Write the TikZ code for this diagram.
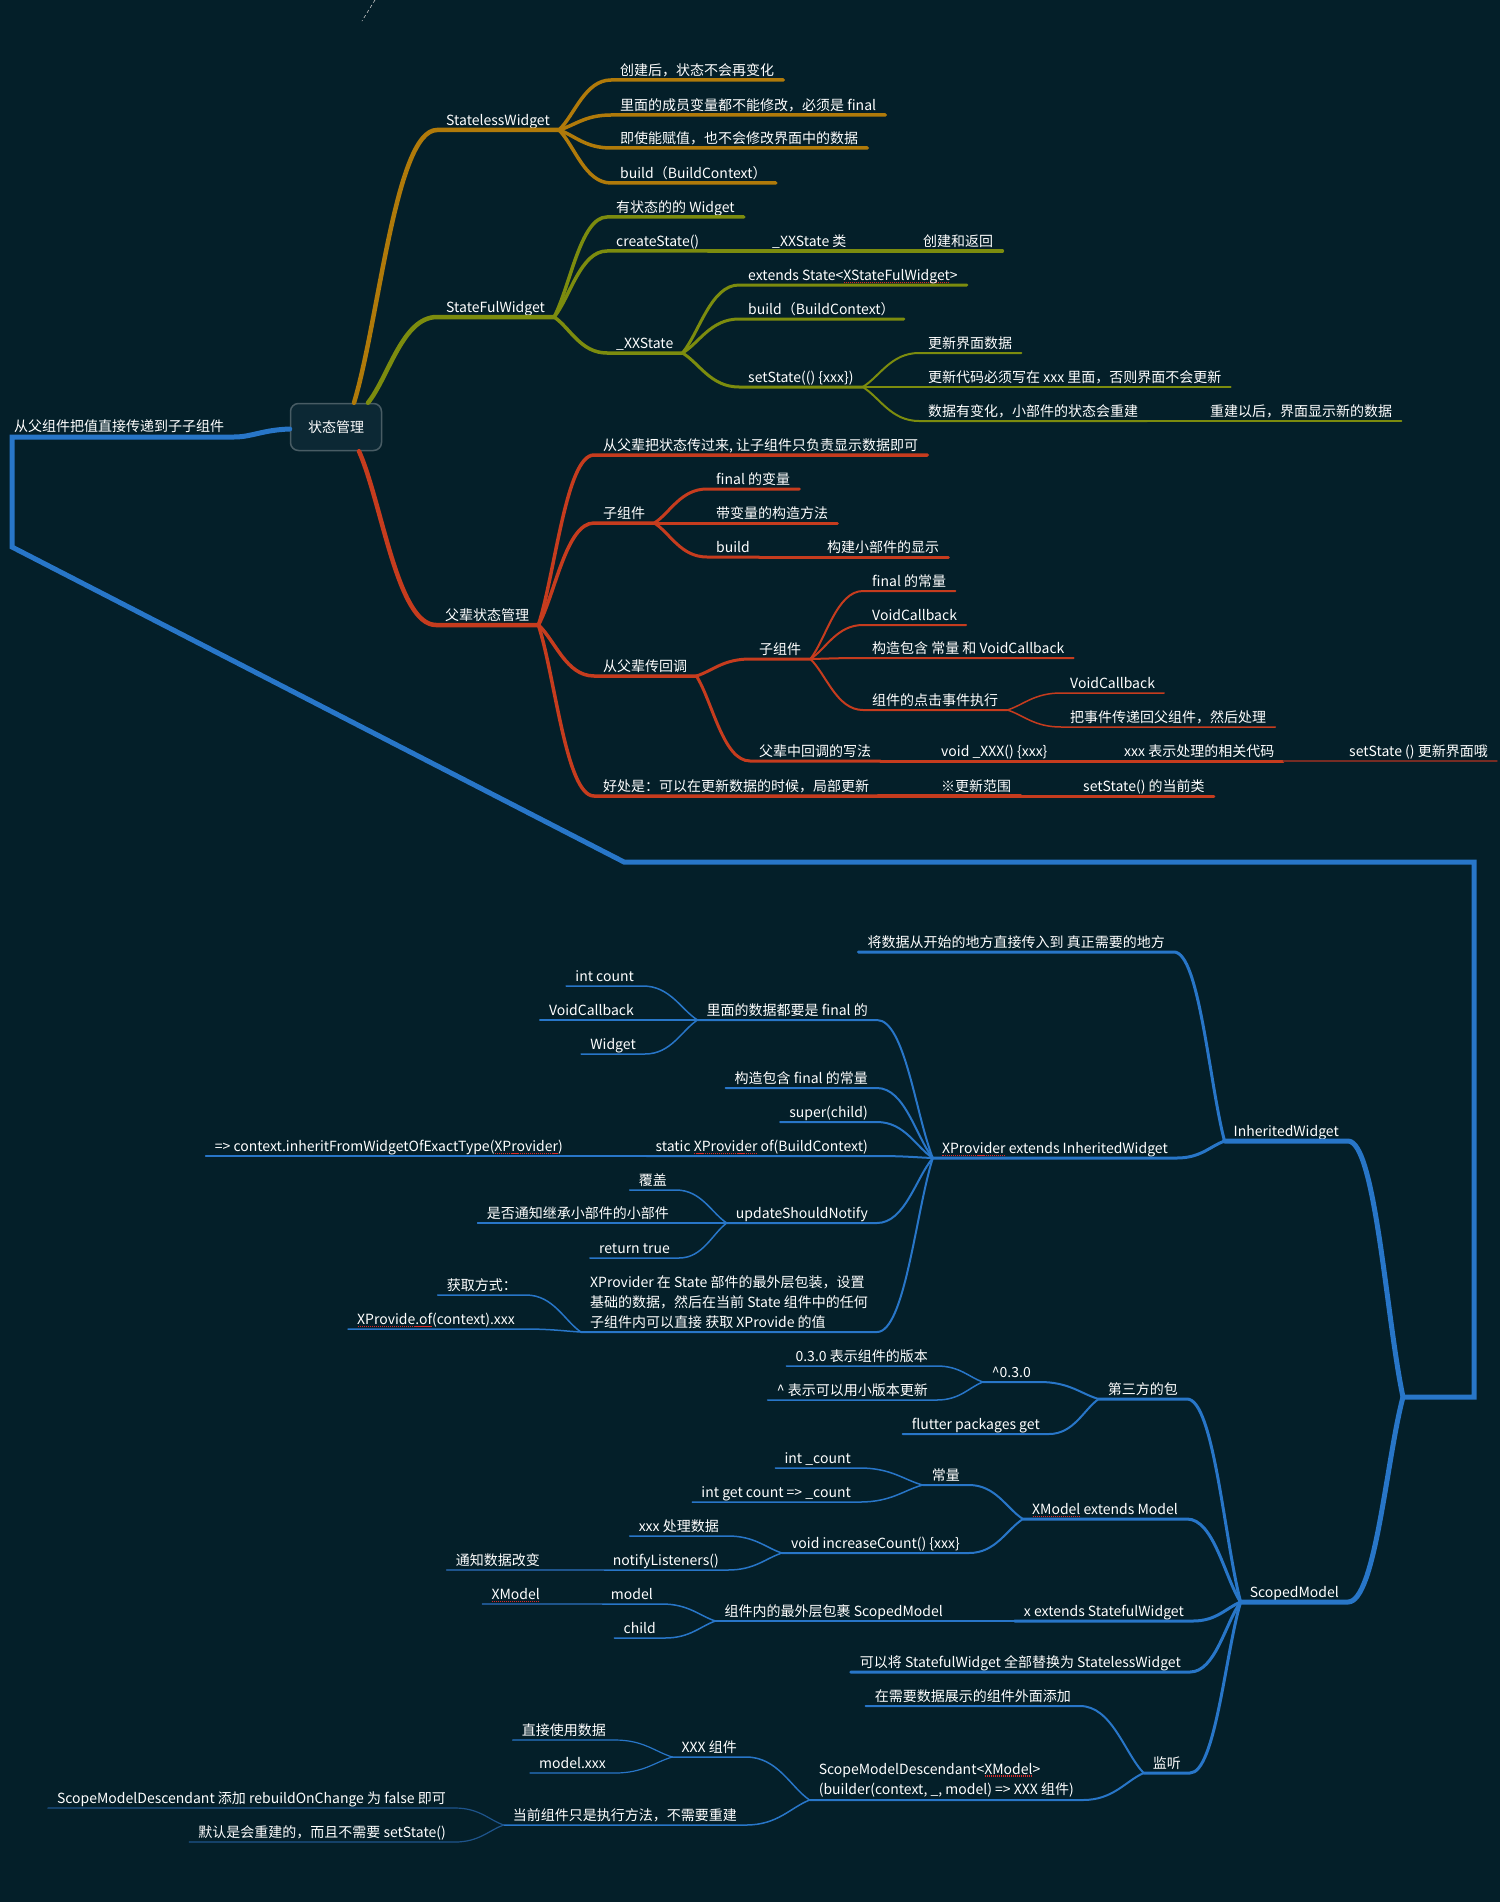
\documentclass[tikz,border=0pt]{standalone}
\usepackage{fontspec}
\setmainfont{Noto Sans CJK SC}
\usetikzlibrary{calc}

\definecolor{bgc}{RGB}{4,31,41}
\definecolor{goldc}{RGB}{176,122,10}
\definecolor{olivec}{RGB}{124,140,14}
\definecolor{redc}{RGB}{198,60,30}
\definecolor{reddark}{RGB}{118,44,36}
\definecolor{bluec}{RGB}{40,118,200}
\definecolor{bluedark}{RGB}{30,84,140}
\definecolor{rootfill}{RGB}{12,40,52}
\definecolor{rootedge}{RGB}{72,92,100}
\definecolor{spellc}{RGB}{220,40,40}

% red dots under a word, as a spell checker marks it
\newcommand\spell[1]{\setbox0\hbox{#1}\rlap{\color{spellc}\raisebox{-2.5pt}[0pt][0pt]{\hbox to \wd0{\xleaders\hbox to 2pt{\hss\rule{1.2pt}{1.2pt}\hss}\hfill}}}\box0\relax}

\begin{document}
\begin{tikzpicture}[x=1pt, y=-1pt, line cap=round, line join=round,
    topic/.style={inner xsep=9pt, inner ysep=1.5pt, text height=10.5pt, text depth=2.5pt, text=white, font=\fontsize{14}{16}\selectfont},
    rtopic/.style={topic, anchor=south west},
    ltopic/.style={topic, anchor=south east},
    note/.style={inner xsep=9pt, inner ysep=3pt, align=left, text=white, font=\fontsize{14}{20}\selectfont, anchor=south east},
    rootbox/.style={draw=rootedge, fill=rootfill, line width=1.5pt, rounded corners=8pt, minimum width=91pt, minimum height=47pt, text=white, font=\fontsize{14}{16}\selectfont},
    twig/.style={to path={.. controls ($(\tikztostart)!0.3!(\tikztotarget)$) and ($(\tikztotarget)!0.5!(\tikztotarget-|\tikztostart)$) .. (\tikztotarget)}},
    lv1/.style={line width=4.5pt}, lv2/.style={line width=3.5pt}, lv3/.style={line width=3pt},
    lv4/.style={line width=2pt}, lv5/.style={line width=1.5pt}, lv6/.style={line width=1.2pt}]
    \useasboundingbox (0,0) rectangle (1500,1902);
    \fill[bgc] (0,0) rectangle (1500,1902);
    \draw[gray!45, dashed, line width=0.6pt] (375,0) -- (362,21);

    % Root
    \node[rootbox] (root) at (336,427) {状态管理};
    \coordinate (goldout) at ([xshift=18pt]root.north);
    \coordinate (oliveout) at ([xshift=32pt]root.north);
    \coordinate (redout) at ([xshift=23pt]root.south);
    \coordinate (blueout) at ([yshift=-2pt]root.west);

    % StatelessWidget
    \node[rtopic] (sl) at (437,130) {StatelessWidget};
    \node[rtopic] (sl1) at (611,80) {创建后，状态不会再变化};
    \node[rtopic] (sl2) at (611,115) {里面的成员变量都不能修改，必须是 final};
    \node[rtopic] (sl3) at (611,148) {即使能赋值，也不会修改界面中的数据};
    \node[rtopic] (sl4) at (611,183) {build（BuildContext）};
    \draw[goldc, lv1] (goldout) to[twig] (sl.south west) -- (sl.south east);
    \foreach \n in {sl1,sl2,sl3,sl4}
        \draw[goldc, lv2] (sl.south east) to[twig] (\n.south west) -- (\n.south east);

    % StateFulWidget
    \node[rtopic] (sf) at (437,317) {StateFulWidget};
    \node[rtopic] (sf1) at (607,217) {有状态的的 Widget};
    \node[rtopic] (sf2) at (607,251) {createState()};
    \node[rtopic] (sf2a) at (763,251) {\_XXState 类};
    \node[rtopic] (sf2b) at (914,251) {创建和返回};
    \node[rtopic] (sf3) at (607,353) {\_XXState};
    \node[rtopic] (xst1) at (739,285) {extends State<\spell{XStateFulWidget}>};
    \node[rtopic] (xst2) at (739,319) {build（BuildContext）};
    \node[rtopic] (xst3) at (739,387) {setState(() \{xxx\})};
    \node[rtopic] (ss1) at (919,353) {更新界面数据};
    \node[rtopic] (ss2) at (919,387) {更新代码必须写在 xxx 里面，否则界面不会更新};
    \node[rtopic] (ss3) at (919,421) {数据有变化，小部件的状态会重建};
    \node[rtopic] (ss3a) at (1201,421) {重建以后，界面显示新的数据};
    \draw[olivec, lv1] (oliveout) to[twig] (sf.south west) -- (sf.south east);
    \foreach \n in {sf1,sf2,sf3}
        \draw[olivec, lv2] (sf.south east) to[twig] (\n.south west) -- (\n.south east);
    \draw[olivec, lv2] (sf2.south east) -- (sf2a.south west) -- (sf2a.south east) -- (sf2b.south west) -- (sf2b.south east);
    \foreach \n in {xst1,xst2,xst3}
        \draw[olivec, lv3] (sf3.south east) to[twig] (\n.south west) -- (\n.south east);
    \foreach \n in {ss1,ss2,ss3}
        \draw[olivec, lv4] (xst3.south east) to[twig] (\n.south west) -- (\n.south east);
    \draw[olivec, lv4] (ss3.south east) -- (ss3a.south west) -- (ss3a.south east);

    % 父辈状态管理
    \node[rtopic] (pm) at (436,625) {父辈状态管理};
    \node[rtopic] (pm1) at (594,455) {从父辈把状态传过来, 让子组件只负责显示数据即可};
    \node[rtopic] (pm2) at (594,523) {子组件};
    \node[rtopic] (pm2a) at (707,489) {final 的变量};
    \node[rtopic] (pm2b) at (707,523) {带变量的构造方法};
    \node[rtopic] (pm2c) at (707,557) {build};
    \node[rtopic] (pm2d) at (818,557) {构建小部件的显示};
    \node[rtopic] (pm3) at (594,676) {从父辈传回调};
    \node[rtopic] (cb1) at (750,659) {子组件};
    \node[rtopic] (cb1a) at (863,591) {final 的常量};
    \node[rtopic] (cb1b) at (863,625) {VoidCallback};
    \node[rtopic] (cb1c) at (863,658) {构造包含 常量 和 VoidCallback};
    \node[rtopic] (cb1d) at (863,710) {组件的点击事件执行};
    \node[rtopic] (ck1) at (1061,693) {VoidCallback};
    \node[rtopic] (ck2) at (1061,727) {把事件传递回父组件，然后处理};
    \node[rtopic] (cb2) at (750,761) {父辈中回调的写法};
    \node[rtopic] (cb2a) at (932,761) {void \_XXX() \{xxx\}};
    \node[rtopic] (cb2b) at (1115,761) {xxx 表示处理的相关代码};
    \node[rtopic] (cb2c) at (1340,761) {setState () 更新界面哦};
    \node[rtopic] (pm4) at (594,796) {好处是：可以在更新数据的时候，局部更新};
    \node[rtopic] (pm4a) at (932,796) {※更新范围};
    \node[rtopic] (pm4b) at (1074,796) {setState() 的当前类};
    \draw[redc, lv1] (redout) to[twig] (pm.south west) -- (pm.south east);
    \foreach \n in {pm1,pm2,pm3,pm4}
        \draw[redc, lv2] (pm.south east) to[twig] (\n.south west) -- (\n.south east);
    \foreach \n in {pm2a,pm2b,pm2c}
        \draw[redc, lv3] (pm2.south east) to[twig] (\n.south west) -- (\n.south east);
    \draw[redc, lv3] (pm2c.south east) -- (pm2d.south west) -- (pm2d.south east);
    \foreach \n in {cb1,cb2}
        \draw[redc, lv3] (pm3.south east) to[twig] (\n.south west) -- (\n.south east);
    \foreach \n in {cb1a,cb1b,cb1c,cb1d}
        \draw[redc, lv4] (cb1.south east) to[twig] (\n.south west) -- (\n.south east);
    \foreach \n in {ck1,ck2}
        \draw[redc, lv5] (cb1d.south east) to[twig] (\n.south west) -- (\n.south east);
    \draw[redc, lv3] (cb2.south east) -- (cb2a.south west) -- (cb2a.south east) -- (cb2b.south west) -- (cb2b.south east);
    \draw[reddark, lv5] (cb2b.south east) -- (cb2c.south west) -- (cb2c.south east);
    \draw[redc, lv2] (pm4.south east) -- (pm4a.south west) -- (pm4a.south east);
    \draw[redc, lv3] (pm4a.south east) -- (pm4b.south west) -- (pm4b.south east);

    % Blue branch round the left side to the hub
    \node[rtopic] (pass) at (5,436) {从父组件把值直接传递到子子组件};
    \coordinate (bend1) at (234,437);
    \coordinate (bend2) at (12,437);
    \coordinate (bend3) at (12,547);
    \coordinate (bend4) at (624,862);
    \coordinate (bend5) at (1474,862);
    \coordinate (bend6) at (1474,1397);
    \coordinate (hub) at (1403,1397);
    \draw[bluec, line width=5pt, line join=miter] (blueout) .. controls (262,430) and (252,437) .. (bend1)
        -- (bend2) -- (bend3) -- (bend4) -- (bend5) -- (bend6) -- (hub);
    \node[ltopic] (iw) at (1348,1141) {InheritedWidget};
    \node[ltopic] (sm) at (1348,1602) {ScopedModel};
    \draw[bluec, line width=5pt] (hub) to[twig] (iw.south east) -- (iw.south west);
    \draw[bluec, line width=5pt] (hub) to[twig] (sm.south east) -- (sm.south west);

    % InheritedWidget
    \node[ltopic] (iw1) at (1174,952) {将数据从开始的地方直接传入到 真正需要的地方};
    \node[ltopic] (xp) at (1177,1158) {\spell{XProvider} extends InheritedWidget};
    \node[ltopic] (xp1) at (877,1020) {里面的数据都要是 final 的};
    \node[ltopic] (xp1a) at (643,986) {int count};
    \node[ltopic] (xp1b) at (643,1020) {VoidCallback};
    \node[ltopic] (xp1c) at (645,1054) {Widget};
    \node[ltopic] (xp2) at (877,1088) {构造包含 final 的常量};
    \node[ltopic] (xp3) at (877,1122) {super(child)};
    \node[ltopic] (xp4) at (877,1156) {static \spell{XProvider} of(BuildContext)};
    \node[ltopic] (xp4a) at (572,1156) {=> context.inheritFromWidgetOfExactType(\spell{XProvider})};
    \node[ltopic] (xp5) at (877,1223) {updateShouldNotify};
    \node[ltopic] (xp5a) at (676,1190) {覆盖};
    \node[ltopic] (xp5b) at (678,1223) {是否通知继承小部件的小部件};
    \node[ltopic] (xp5c) at (679,1258) {return true};
    \node[note] (xp6) at (877,1332) {XProvider 在 State 部件的最外层包装，设置\\基础的数据，然后在当前 State 组件中的任何\\子组件内可以直接 获取 XProvide 的值};
    \node[ltopic] (xp6a) at (526,1295) {获取方式：};
    \node[ltopic] (xp6b) at (524,1329) {\spell{XProvide.of}(context).xxx};
    \foreach \n in {iw1,xp}
        \draw[bluec, lv3] (iw.south west) to[twig] (\n.south east) -- (\n.south west);
    \foreach \n in {xp1,xp2,xp3,xp4,xp5,xp6}
        \draw[bluec, lv4] (xp.south west) to[twig] (\n.south east) -- (\n.south west);
    \foreach \n in {xp1a,xp1b,xp1c}
        \draw[bluec, lv5] (xp1.south west) to[twig] (\n.south east) -- (\n.south west);
    \draw[bluec, lv5] (xp4.south west) -- (xp4a.south east) -- (xp4a.south west);
    \foreach \n in {xp5a,xp5b,xp5c}
        \draw[bluec, lv5] (xp5.south west) to[twig] (\n.south east) -- (\n.south west);
    \foreach \n in {xp6a,xp6b}
        \draw[bluec, lv5] (xp6.south west) to[twig] (\n.south east) -- (\n.south west);

    % ScopedModel
    \node[ltopic] (tp) at (1187,1399) {第三方的包};
    \node[ltopic] (tp1) at (1040,1382) {\textasciicircum0.3.0};
    \node[ltopic] (tp1a) at (937,1366) {0.3.0 表示组件的版本};
    \node[ltopic] (tp1b) at (937,1400) {\textasciicircum{} 表示可以用小版本更新};
    \node[ltopic] (tp2) at (1049,1434) {flutter packages get};
    \node[ltopic] (xm) at (1187,1519) {\spell{XModel} extends Model};
    \node[ltopic] (xm1) at (969,1485) {常量};
    \node[ltopic] (xm1a) at (860,1468) {int \_count};
    \node[ltopic] (xm1b) at (860,1502) {int get count => \_count};
    \node[ltopic] (xm2) at (969,1553) {void increaseCount() \{xxx\}};
    \node[ltopic] (xm2a) at (728,1536) {xxx 处理数据};
    \node[ltopic] (xm2b) at (728,1570) {notifyListeners()};
    \node[ltopic] (xm2c) at (549,1570) {通知数据改变};
    \node[ltopic] (sw) at (1193,1621) {x extends StatefulWidget};
    \node[ltopic] (swa) at (952,1621) {组件内的最外层包裹 ScopedModel};
    \node[ltopic] (swm) at (662,1604) {model};
    \node[ltopic] (swx) at (549,1604) {\spell{XModel}};
    \node[ltopic] (swc) at (665,1638) {child};
    \node[ltopic] (rp) at (1190,1672) {可以将 StatefulWidget 全部替换为 StatelessWidget};
    \node[ltopic] (ls) at (1190,1773) {监听};
    \node[ltopic] (ls1) at (1080,1706) {在需要数据展示的组件外面添加};
    \node[note] (ls2) at (1083,1800) {ScopeModelDescendant<\spell{XModel}>\\(builder(context, \_, model) => XXX 组件)};
    \node[ltopic] (xc) at (746,1757) {XXX 组件};
    \node[ltopic] (xc1) at (615,1740) {直接使用数据};
    \node[ltopic] (xc2) at (615,1773) {model.xxx};
    \node[ltopic] (nr) at (746,1825) {当前组件只是执行方法，不需要重建};
    \node[ltopic] (nr1) at (455,1808) {ScopeModelDescendant 添加 rebuildOnChange 为 false 即可};
    \node[ltopic] (nr2) at (455,1842) {默认是会重建的，而且不需要 setState()};
    \foreach \n in {tp,xm,sw,rp,ls}
        \draw[bluec, lv3] (sm.south west) to[twig] (\n.south east) -- (\n.south west);
    \foreach \n in {tp1,tp2}
        \draw[bluec, lv4] (tp.south west) to[twig] (\n.south east) -- (\n.south west);
    \foreach \n in {tp1a,tp1b}
        \draw[bluec, lv5] (tp1.south west) to[twig] (\n.south east) -- (\n.south west);
    \foreach \n in {xm1,xm2}
        \draw[bluec, lv4] (xm.south west) to[twig] (\n.south east) -- (\n.south west);
    \foreach \n in {xm1a,xm1b}
        \draw[bluec, lv5] (xm1.south west) to[twig] (\n.south east) -- (\n.south west);
    \foreach \n in {xm2a,xm2b}
        \draw[bluec, lv5] (xm2.south west) to[twig] (\n.south east) -- (\n.south west);
    \draw[bluedark, lv6] (xm2b.south west) -- (xm2c.south east) -- (xm2c.south west);
    \draw[bluec, lv4] (sw.south west) -- (swa.south east) -- (swa.south west);
    \foreach \n in {swm,swc}
        \draw[bluec, lv5] (swa.south west) to[twig] (\n.south east) -- (\n.south west);
    \draw[bluedark, lv6] (swm.south west) -- (swx.south east) -- (swx.south west);
    \foreach \n in {ls1,ls2}
        \draw[bluec, lv4] (ls.south west) to[twig] (\n.south east) -- (\n.south west);
    \foreach \n in {xc,nr}
        \draw[bluec, lv5] (ls2.south west) to[twig] (\n.south east) -- (\n.south west);
    \foreach \n in {xc1,xc2}
        \draw[bluec, lv6] (xc.south west) to[twig] (\n.south east) -- (\n.south west);
    \foreach \n in {nr1,nr2}
        \draw[bluedark, lv6] (nr.south west) to[twig] (\n.south east) -- (\n.south west);
\end{tikzpicture}
\end{document}
